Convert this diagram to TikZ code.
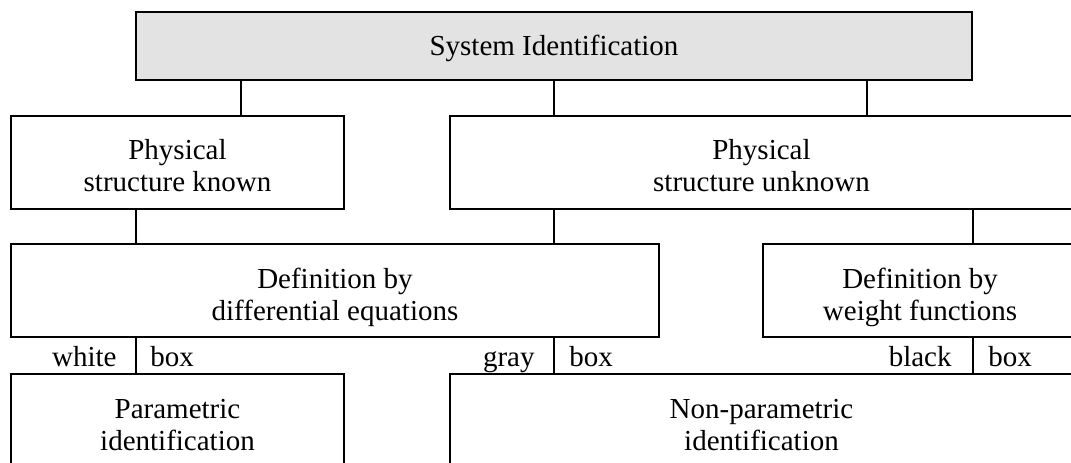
\documentclass[tikz,border=0pt]{standalone}
\usepackage{fontspec}
\setmainfont{Liberation Serif}
\begin{document}
\begin{tikzpicture}[x=0.5pt,y=-0.5pt,
  box/.style={draw=black,line width=1pt,rectangle,inner sep=0pt,outer sep=0pt},
  txt/.style={align=center,inner sep=0pt,font=\fontsize{14.5pt}{16pt}\selectfont},
  lab/.style={inner sep=0pt,font=\fontsize{14.5pt}{16pt}\selectfont},
  conn/.style={draw=black,line width=1pt}]
\useasboundingbox (0,0) rectangle (1071,462);
\clip (0,0) rectangle (1071,462);
% boxes
\node[box,fill={rgb,255:red,227;green,227;blue,227},minimum width=418pt,minimum height=34pt] (top) at (554,46) {};
\node[box,minimum width=166.5pt,minimum height=46.5pt] (b1) at (177.5,162.5) {};
\node[box,minimum width=311.5pt,minimum height=46.5pt] (b2) at (761.5,162.5) {};
\node[box,minimum width=324pt,minimum height=46.5pt] (def) at (335,290.5) {};
\node[box,minimum width=157pt,minimum height=46.5pt] (wf) at (920,290.5) {};
\node[box,minimum width=166.5pt,minimum height=53pt] (par) at (177.5,427) {};
\node[box,minimum width=311.5pt,minimum height=53pt] (npar) at (761.5,427) {};
% texts
\node[txt] (ttop) at (554,48) {System Identification};
\node[txt] (tb1) at (177.5,166) {Physical\\structure known};
\node[txt] (tb2) at (761.5,166) {Physical\\structure unknown};
\node[txt] (tdef) at (335,297) {Definition by\\differential equations};
\node[txt] (twf) at (920,297) {Definition by\\weight functions};
\node[txt] (tpar) at (177.5,425) {Parametric\\identification};
\node[txt] (tnpar) at (761.5,425) {Non-parametric\\identification};
% connector x positions
\coordinate (k1) at (241,0);
\coordinate (k2) at (554,0);
\coordinate (k3) at (867,0);
\coordinate (m1) at (136,0);
\coordinate (m2) at (554,0);
\coordinate (m3) at (973,0);
% level 1 -> 2
\draw[conn] (top.south -| k1) -- (b1.north -| k1);
\draw[conn] (top.south -| k2) -- (b2.north -| k2);
\draw[conn] (top.south -| k3) -- (b2.north -| k3);
% level 2 -> 3
\draw[conn] (b1.south -| m1) -- (def.north -| m1);
\draw[conn] (b2.south -| m2) -- (def.north -| m2);
\draw[conn] (b2.south -| m3) -- (wf.north -| m3);
% level 3 -> 4 (legend dividers)
\draw[conn] (def.south -| m1) -- (par.north -| m1);
\draw[conn] (def.south -| m2) -- (npar.north -| m2);
\draw[conn] (wf.south -| m3) -- (npar.north -| m3);
% legend labels
\node[lab,anchor=base east] (lw) at (117,366) {white};
\node[lab,anchor=base west] (lwb) at (150,366) {box};
\node[lab,anchor=base east] (lg) at (535,366) {gray};
\node[lab,anchor=base west] (lgb) at (569,366) {box};
\node[lab,anchor=base east] (lk) at (952,366) {black};
\node[lab,anchor=base west] (lkb) at (988,366) {box};
\end{tikzpicture}
\end{document}
